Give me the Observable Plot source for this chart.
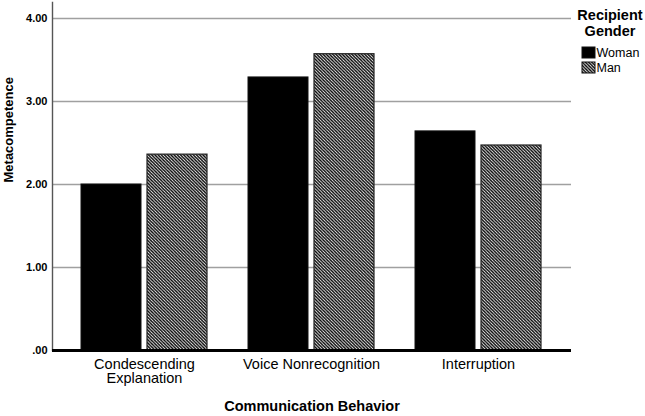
<!DOCTYPE html>
<html>
<head>
<meta charset="utf-8">
<script src="https://cdn.jsdelivr.net/npm/d3@7"></script>
<script src="https://cdn.jsdelivr.net/npm/@observablehq/plot@0.6"></script>
<style>
  html, body { margin: 0; padding: 0; background: white; }
  #chart svg { display: block; }
</style>
</head>
<body>
<div id="chart"></div>
<script>
const behaviors = ["Condescending Explanation", "Voice Nonrecognition", "Interruption"];
const tickLabels = ["Condescending\nExplanation", "Voice Nonrecognition", "Interruption"];
const genders = ["Woman", "Man"];
const womanValues = [2.00, 3.29, 2.64];
const manValues = [2.36, 3.57, 2.47];
const yTicks = [0, 1, 2, 3, 4];
const legendTitle = ["Recipient", "Gender"];
const xTitle = "Communication Behavior";
const yTitle = "Metacompetence";

const table = behaviors.flatMap((b, i) => [
  {behavior: b, gender: genders[0], value: womanValues[i]},
  {behavior: b, gender: genders[1], value: manValues[i]}
]);

const font = "'Liberation Sans', Arial, Helvetica, sans-serif";

const chart = Plot.plot({
  width: 645,
  height: 416,
  marginLeft: 52,
  marginRight: 74,
  marginTop: 2,
  marginBottom: 66,
  style: {fontFamily: font, background: "white", color: "black"},
  x: {domain: behaviors, paddingInner: 0.243, paddingOuter: 0.168, label: null},
  y: {domain: [0, 4.193], label: null},
  marks: [
    Plot.ruleY(yTicks.filter(d => d > 0), {stroke: "#a0a0a0", strokeWidth: 1.4}),
    Plot.barY(table.filter(d => d.gender === genders[0]), {
      x: "behavior", y: "value", fill: "black", stroke: "#111", strokeWidth: 1, insetRight: 66
    }),
    Plot.barY(table.filter(d => d.gender === genders[1]), {
      x: "behavior", y: "value", fill: "url(#hatch)", stroke: "#222", strokeWidth: 1.2, insetLeft: 66
    }),
    Plot.frame({anchor: "left", stroke: "#555", strokeWidth: 1.4}),
    Plot.ruleY([0], {stroke: "black", strokeWidth: 3}),
    Plot.axisY({
      ticks: yTicks,
      tickFormat: d => d === 0 ? ".00" : d.toFixed(2),
      tickSize: 0, tickPadding: 5, fontSize: 11, fontWeight: "bold", label: null
    }),
    Plot.axisX({
      tickFormat: d => tickLabels[behaviors.indexOf(d)],
      tickSize: 0, tickPadding: 8, fontSize: 14.5, label: null
    }),
    Plot.text([yTitle], {
      text: d => d, frameAnchor: "left", dx: -44, dy: 6, rotate: -90,
      fontWeight: "bold", fontSize: 13
    }),
    Plot.text([xTitle], {
      text: d => d, frameAnchor: "bottom", dy: 60,
      fontWeight: "bold", fontSize: 14.5
    })
  ]
});

document.getElementById("chart").appendChild(chart);

const svg = d3.select(chart);
const defs = svg.insert("defs", ":first-child");
const pat = defs.append("pattern")
  .attr("id", "hatch")
  .attr("patternUnits", "userSpaceOnUse")
  .attr("width", 3.2).attr("height", 3.2);
pat.append("rect").attr("width", 3.2).attr("height", 3.2).attr("fill", "white");
pat.append("path")
  .attr("d", "M0,0 L3.2,3.2 M-1.6,1.6 L1.6,4.8 M1.6,-1.6 L4.8,1.6")
  .attr("stroke", "black").attr("stroke-width", 1.35);

const lg = svg.append("g").attr("font-family", font);
lg.selectAll("text.title").data(legendTitle).join("text")
  .attr("class", "title")
  .attr("x", 610).attr("y", (d, i) => 15 + i * 16)
  .attr("dy", "0.35em")
  .attr("text-anchor", "middle")
  .attr("font-weight", "bold").attr("font-size", 14.5)
  .text(d => d);
const items = lg.selectAll("g.item").data(genders).join("g")
  .attr("class", "item")
  .attr("transform", (d, i) => `translate(582,${47 + i * 15})`);
items.append("rect")
  .attr("width", 13).attr("height", 11)
  .attr("fill", (d, i) => i === 0 ? "black" : "url(#hatch)")
  .attr("stroke", "#111").attr("stroke-width", 1);
items.append("text")
  .attr("x", 14.5).attr("y", 5.5).attr("dy", "0.35em")
  .attr("text-anchor", "start")
  .attr("font-size", 12.5)
  .text(d => d);
</script>
</body>
</html>
